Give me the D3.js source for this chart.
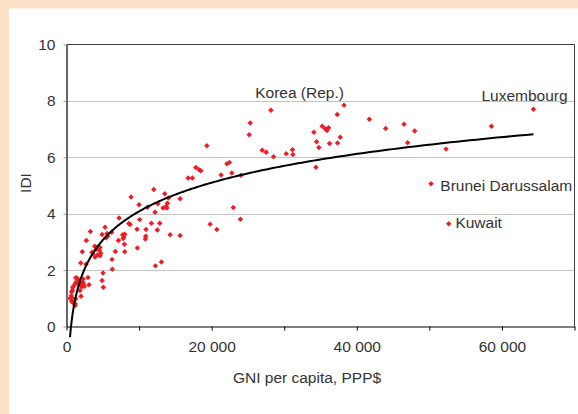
<!DOCTYPE html>
<html>
<head>
<meta charset="utf-8">
<script src="https://cdn.jsdelivr.net/npm/d3@7"></script>
<style>
  html, body { margin: 0; padding: 0; background: #ffffff; }
  svg { display: block; font-family: "Liberation Sans", Arial, sans-serif; }
</style>
</head>
<body>
<svg id="chart" width="578" height="414"></svg>
<script>
// ---- Data ----
const gniValues = [
  // high income (> 22 000)
  22100, 22460, 22780, 24050, 22980, 23970, 25310, 25172, 28166,
  26966, 27517, 28529, 30276, 31145, 31200,
  34090, 35241, 35655, 35890, 36117, 34460, 34780, 36250, 37350, 37724, 37310, 38234, 34370,
  41724, 43972, 46510, 47010, 47972, 52300, 58552, 64345, 50230, 52670,
  // 14 000 - 22 000
  19338, 17820, 18276, 18510, 16760, 17350, 21310, 15655, 19793, 20717, 14276, 15655,
  // 6 000 - 14 300
  8897, 12028, 13545, 10000, 11150, 12580, 14050, 13900, 13720, 13820, 13310, 12207,
  7241, 10090, 8580, 8760, 11700, 12850, 12525, 9724, 10965, 10920, 10870, 9770, 12250, 13080,
  6230, 5586, 7750, 7890, 8030, 7800, 7150, 7980, 8030, 6730, 6276, 6320, 5035, 4900, 5080,
  // 0 - 6 000
  5310, 3290, 2730, 2180, 1960, 2690, 3890, 4070, 4345, 4530, 4620, 3930, 3517, 3655, 4717,
  4250, 4620, 4300, 4900, 5450, 5680, 2966, 3103, 2000, 1490, 1270, 1630, 1310, 1170, 1630,
  1860, 2100, 2320, 2460, 940, 850, 800, 717, 660, 620, 760, 717, 1270, 1210, 1080, 2040,
  2140, 2320, 1860, 480, 940, 1170
];
const idiValues = [
  5.77, 5.82, 5.44, 5.36, 4.22, 3.80, 7.22, 6.80, 7.67,
  6.25, 6.18, 6.02, 6.13, 6.27, 6.10,
  6.89, 7.10, 7.01, 6.95, 7.05, 6.55, 6.35, 6.49, 6.51, 6.71, 7.52, 7.85, 5.65,
  7.35, 7.02, 7.17, 6.52, 6.93, 6.29, 7.10, 7.70, 5.06, 3.64,
  6.41, 5.64, 5.56, 5.52, 5.27, 5.27, 5.37, 4.53, 3.63, 3.44, 3.25, 3.23,
  4.59, 4.86, 4.71, 4.32, 4.23, 4.35, 4.56, 4.37, 4.26, 4.20, 4.20, 4.05,
  3.85, 3.79, 3.65, 3.62, 3.66, 3.66, 3.42, 3.45, 3.44, 3.20, 3.10, 2.78, 2.15, 2.29,
  3.34, 3.30, 3.25, 3.17, 3.27, 3.12, 3.05, 2.92, 2.65, 2.66, 2.38, 2.03, 1.90, 1.63, 1.39,
  3.52, 3.37, 3.05, 2.65, 2.25, 2.21, 2.85, 2.73, 2.76, 2.70, 2.51, 2.46, 2.63, 2.58, 2.60,
  2.81, 2.80, 2.54, 3.26, 3.15, 3.20, 1.74, 1.48, 1.07, 1.71, 1.73, 1.66, 1.57, 1.51, 1.52,
  1.51, 1.55, 1.54, 1.43, 1.42, 1.37, 1.28, 1.22, 1.09, 0.98, 1.02, 0.89, 0.98, 0.80, 0.80, 1.42,
  1.42, 1.68, 1.28, 1.00, 0.86, 0.74
];

const xTickValues = [0, 10000, 20000, 30000, 40000, 50000, 60000, 70000];
const xTickLabels = ["0", "", "20 000", "", "40 000", "", "60 000", ""];
const yTickValues = [0, 2, 4, 6, 8, 10];
const yTickLabels = ["0", "2", "4", "6", "8", "10"];

const annotationNames = ["Korea (Rep.)", "Luxembourg", "Brunei Darussalam", "Kuwait"];
const annotationGni = [26000, 57170, 51517, 53590];
const annotationIdi = [8.10, 8.00, 4.80, 3.51];

const xTitle = "GNI per capita, PPP$";
const yTitle = "IDI";

// ---- Layout ----
const svg = d3.select("#chart");
const W = 578, H = 414;
const plot = { left: 66.5, right: 574.5, top: 44.5, bottom: 326.5 };
const textColor = "#333333";
const fontSize = 15.5;

// background: white with peach band on top and left
svg.append("rect").attr("x", 0).attr("y", 0).attr("width", W).attr("height", H).attr("fill", "#ffffff");
svg.append("rect").attr("x", 0).attr("y", 0).attr("width", W).attr("height", 8.5).attr("fill", "#FEE0C8");
svg.append("rect").attr("x", 0).attr("y", 0).attr("width", 9).attr("height", H).attr("fill", "#FEE0C8");

const x = d3.scaleLinear().domain([0, 70000]).range([plot.left, plot.right]);
const y = d3.scaleLinear().domain([0, 10]).range([plot.bottom, plot.top]);

// gridlines
svg.append("g")
  .selectAll("line")
  .data(yTickValues.filter(v => v > 0 && v < 10))
  .join("line")
  .attr("x1", plot.left).attr("x2", plot.right)
  .attr("y1", d => Math.round(y(d)) + 0.5).attr("y2", d => Math.round(y(d)) + 0.5)
  .attr("stroke", "#C4C4C4").attr("stroke-width", 1);

// top and right frame
svg.append("path")
  .attr("d", `M${plot.left},${plot.top}H${plot.right}V${plot.bottom}`)
  .attr("fill", "none").attr("stroke", "#404040").attr("stroke-width", 1);

// x axis
const xAxis = d3.axisBottom(x)
  .tickValues(xTickValues)
  .tickSizeInner(4).tickSizeOuter(0)
  .tickPadding(10)
  .tickFormat((d, i) => xTickLabels[i]);
const gx = svg.append("g").attr("transform", `translate(0,${plot.bottom})`).call(xAxis);
gx.select(".domain").attr("stroke", "#000").attr("stroke-width", 1.2);
gx.selectAll(".tick line").attr("stroke", "#000");
gx.selectAll("text").attr("fill", textColor).attr("font-size", fontSize)
  .attr("font-family", "'Liberation Sans', Arial, sans-serif");

// y axis
const yAxis = d3.axisLeft(y)
  .tickValues(yTickValues)
  .tickSizeInner(3).tickSizeOuter(0)
  .tickPadding(8)
  .tickFormat((d, i) => yTickLabels[i]);
const gy = svg.append("g").attr("transform", `translate(${plot.left},0)`).call(yAxis);
gy.select(".domain").attr("stroke", "#000").attr("stroke-width", 1.2);
gy.selectAll(".tick line").attr("stroke", "#999");
gy.selectAll("text").attr("fill", textColor).attr("font-size", fontSize)
  .attr("font-family", "'Liberation Sans', Arial, sans-serif");

// scatter points
const points = gniValues.map((g, i) => ({ g, v: idiValues[i] }));
const marker = d3.symbol().type(d3.symbolSquare).size(15);
svg.append("g")
  .selectAll("path")
  .data(points)
  .join("path")
  .attr("d", marker)
  .attr("transform", d => `translate(${x(d.g)},${y(d.v)}) rotate(45)`)
  .attr("fill", "#EE1C25");

// logarithmic trend line fitted (least squares) to the data
const lx = points.map(p => Math.log(p.g));
const mx = d3.mean(lx), my = d3.mean(points, p => p.v);
let sxy = 0, sxx = 0;
points.forEach((p, i) => { sxy += (lx[i] - mx) * (p.v - my); sxx += (lx[i] - mx) ** 2; });
const slope = sxy / sxx, intercept = my - slope * mx;
const gMin = d3.min(gniValues), gMax = d3.max(gniValues);
const curveSamples = d3.range(0, 301).map(k => gMin * Math.pow(gMax / gMin, k / 300));
svg.append("path")
  .datum(curveSamples)
  .attr("d", d3.line().x(d => x(d)).y(d => y(slope * Math.log(d) + intercept)))
  .attr("fill", "none").attr("stroke", "#000").attr("stroke-width", 2);

// annotations
svg.append("g")
  .selectAll("text")
  .data(annotationNames)
  .join("text")
  .attr("x", (d, i) => x(annotationGni[i]))
  .attr("y", (d, i) => y(annotationIdi[i]))
  .attr("fill", textColor).attr("font-size", fontSize)
  .text(d => d);

// axis titles
svg.append("text")
  .attr("x", 307).attr("y", 383)
  .attr("text-anchor", "middle").attr("fill", textColor).attr("font-size", fontSize)
  .text(xTitle);
svg.append("text")
  .attr("transform", "translate(31,183) rotate(-90)")
  .attr("text-anchor", "middle").attr("fill", textColor).attr("font-size", fontSize)
  .text(yTitle);
</script>
</body>
</html>
